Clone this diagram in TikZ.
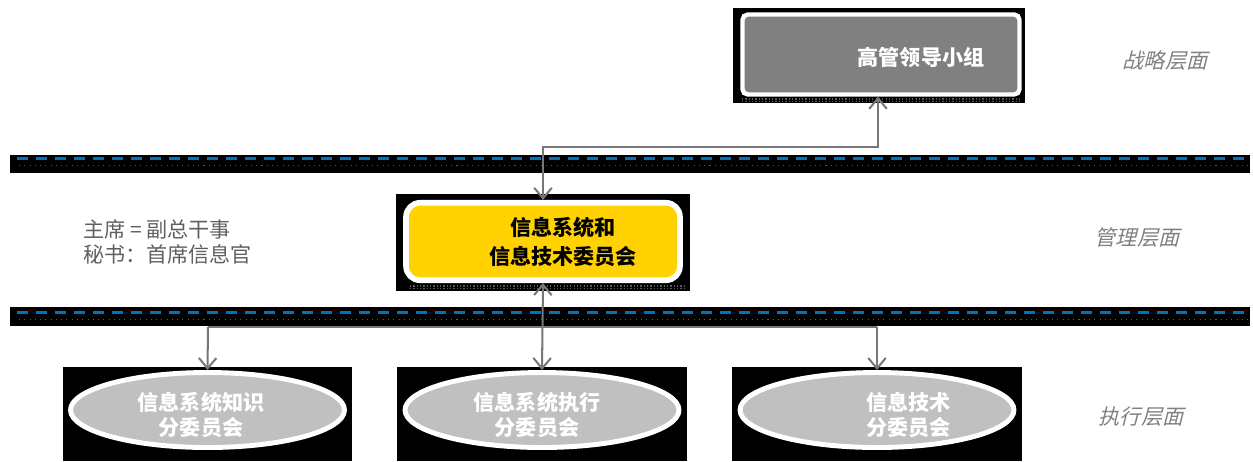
\documentclass[tikz,border=0pt]{standalone}
\usepackage{fontspec}
\setmainfont{Noto Sans CJK SC}
\newfontfamily\cjkit[FakeSlant=0.25]{Noto Sans CJK SC}
\usetikzlibrary{shapes.geometric,arrows.meta}
\definecolor{boxgray}{HTML}{808080}
\definecolor{gold}{HTML}{FFD200}
\definecolor{ellgray}{HTML}{C0C0C0}
\definecolor{linegray}{HTML}{777777}
\definecolor{dashblue}{HTML}{0070C0}
\definecolor{labgray}{HTML}{808080}
\definecolor{txtgray}{HTML}{5F5F5F}
\definecolor{speck}{HTML}{5A5A5A}
\begin{document}
\begin{tikzpicture}[x=0.02cm,y=-0.02cm,
  bgblack/.style={fill=black},
  topbox/.style={rectangle, rounded corners=3pt, draw=white, line width=2.5pt, fill=boxgray,
    minimum width=5.54cm, minimum height=1.6cm, inner sep=0pt},
  midbox/.style={rectangle, rounded corners=8pt, draw=white, line width=3.2pt, fill=gold,
    minimum width=5.48cm, minimum height=1.55cm, inner sep=0pt},
  subell/.style={ellipse, draw=white, line width=2.8pt, fill=ellgray,
    minimum width=5.48cm, minimum height=1.5cm, inner sep=0pt},
  conn/.style={draw=linegray, line width=1.15pt},
  tip/.style={-{Straight Barb[length=6pt,width=10pt]}},
  bitip/.style={{Straight Barb[length=6pt,width=10pt]}-{Straight Barb[length=6pt,width=10pt]}},
  boxtxt/.style={font=\fontsize{12}{16.4}\selectfont\bfseries, align=center, inner sep=0pt},
  elltxt/.style={font=\fontsize{12}{14.2}\selectfont\bfseries, text=white, inner sep=0pt},
  layer/.style={font=\fontsize{12}{14}\selectfont\cjkit, text=labgray, inner sep=0pt},
  banddash/.style={draw=dashblue, line width=1.7pt, dash pattern=on 0.22cm off 0.16cm},
  banddot/.style={draw=speck, line width=0.6pt, dash pattern=on 0.6pt off 2.4pt},
  shadowdot/.style={draw=speck, line width=0.7pt, dash pattern=on 0.7pt off 1.2pt}
]
\useasboundingbox (0,0) rectangle (1253,461);

% black backgrounds
\fill[bgblack] (733,8) rectangle (1025,103);
\fill[bgblack] (396,194) rectangle (690,291);
\fill[bgblack] (63,367) rectangle (352,461);
\fill[bgblack] (397,367) rectangle (687,461);
\fill[bgblack] (732,367) rectangle (1022,461);

% speckled shadows under the boxes
\draw[shadowdot] (742,99) -- (1022,99);
\draw[shadowdot] (742,101.5) -- (1022,101.5);
\draw[shadowdot] (410,286) -- (684,286);
\draw[shadowdot] (410,288.5) -- (684,288.5);

% bands
\fill[bgblack] (10,155) rectangle (1250,173);
\draw[banddash] (17,158.5) -- (1249,158.5);
\draw[banddot] (19,165.5) -- (1249,165.5);
\fill[bgblack] (10,307) rectangle (1250,326);
\draw[banddash] (17,312.5) -- (1249,312.5);
\draw[banddot] (19,319.5) -- (1249,319.5);

% boxes
\node[topbox] (top) at (881,54.5) {};
\node[boxtxt, text=white] (toptxt) at (921,57) {高管领导小组};

\node[midbox] (mid) at (543,241.5) {};
\node[boxtxt, text=black] (midtxt) at (563,242) {信息系统和\\信息技术委员会};

\node[subell] (e1) at (207.5,410) {};
\node[subell] (e2) at (542,410) {};
\node[subell] (e3) at (877,410) {};
\node[elltxt, align=center] (e1t) at (201,415) {信息系统知识\\分委员会};
\node[elltxt, align=center] (e2t) at (537,415) {信息系统执行\\分委员会};
\node[elltxt, align=left, anchor=west] (e3t) at (866,415) {信息技术\\分委员会};

% left text
\node[font=\fontsize{12}{14.2}\selectfont, text=txtgray, align=left, anchor=west, inner sep=0pt]
  (chair) at (83,242) {主席 = 副总干事\\秘书：首席信息官};

% layer labels
\node[layer] (l1) at (1165,61) {战略层面};
\node[layer] (l2) at (1137,238) {管理层面};
\node[layer] (l3) at (1141,417) {执行层面};

% connectors
\coordinate (j1) at (878,147);
\coordinate (j2) at (543,147);
\draw[conn,bitip] (top.south -| j1) -- (j1) -- (j2) -- (mid.north);
\coordinate (b1) at (208,327);
\coordinate (b3) at (877,327);
\draw[conn] (b1) -- (b3);
\draw[conn,tip] (b1) -- (e1.north);
\draw[conn,tip] (b3) -- (e3.north);
\draw[conn,bitip] (mid.south) -- (e2.north);
\end{tikzpicture}
\end{document}
